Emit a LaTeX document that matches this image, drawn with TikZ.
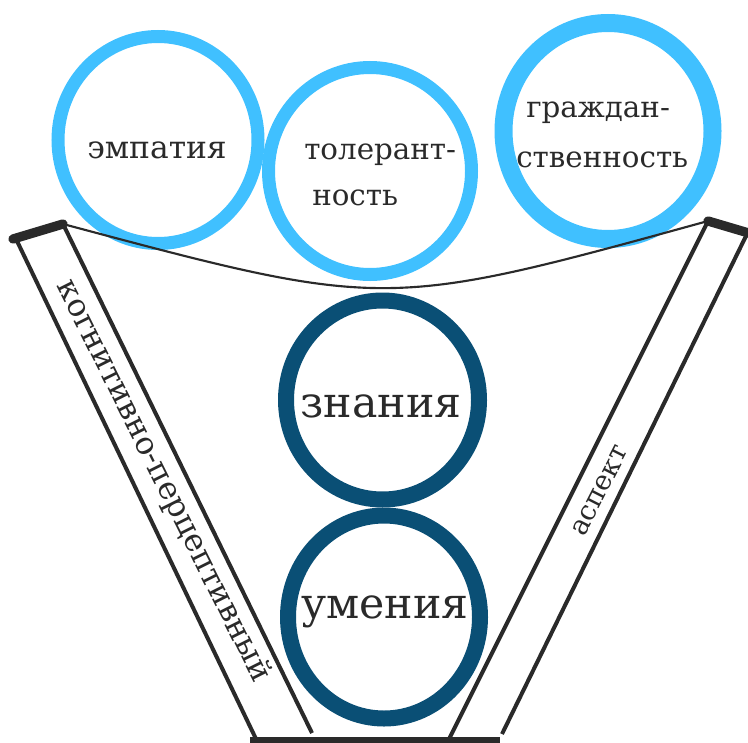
\documentclass[tikz,border=0pt]{standalone}
\usepackage{fontspec}
\setmainfont{DejaVu Serif}
\definecolor{lblue}{HTML}{40C0FF}
\definecolor{dblue}{HTML}{0A4F75}
\definecolor{ink}{HTML}{2A2A2A}
\begin{document}
\begin{tikzpicture}[x=0.75pt,y=-0.75pt,
  ringL/.style={draw=lblue,line width=9.75pt},
  ringD/.style={draw=dblue,line width=12pt},
  funnel/.style={draw=ink,line width=3pt},
  capline/.style={draw=ink,line width=7pt,line cap=round},
  txt/.style={text=ink,font=\fontsize{22pt}{27pt}\selectfont,inner sep=0pt},
  bigtxt/.style={text=ink,font=\fontsize{32pt}{38pt}\selectfont,inner sep=0pt},
  sidetxt/.style={text=ink,font=\fontsize{23.5pt}{28pt}\selectfont,inner sep=0pt}]
\useasboundingbox (0,0) rectangle (748,742);
% top circles
\draw[ringL] (158,140) ellipse [x radius=100,y radius=103.5];
\draw[ringL] (370,171) ellipse [x radius=101.5,y radius=103.5];
\draw[ringL,line width=13.5pt] (608,131) ellipse [x radius=104.5,y radius=108];
% dark circles
\draw[ringD] (382.5,400) ellipse [x radius=96.5,y radius=99.5];
\draw[ringD] (384,617) ellipse [x radius=96,y radius=101.5];
% funnel
\coordinate (lcapA) at (13,239);
\coordinate (lcapB) at (63,224);
\coordinate (loutT) at (17,241);
\coordinate (loutB) at (257,741);
\coordinate (linB) at (312,733);
\coordinate (rcapA) at (708,221);
\coordinate (rcapB) at (752,234);
\coordinate (rinB) at (448,741);
\coordinate (routT) at (746,236);
\coordinate (routB) at (502,734);
\coordinate (barA) at (250,742);
\coordinate (barB) at (500,742);
\draw[funnel] (loutT) -- (loutB);
\draw[funnel] (lcapB) -- (linB);
\draw[funnel] (rcapA) -- (rinB);
\draw[funnel] (routT) -- (routB);
\draw[capline] (lcapA) -- (lcapB);
\draw[capline] (rcapA) -- (rcapB);
\draw[ink,line width=7pt] (barA) -- (barB);
\draw[ink,line width=1.6pt] (lcapB) .. controls (385,310) .. (rcapA);
% texts
\node[txt,font=\fontsize{23.5pt}{28pt}\selectfont] (t1) at (157,150) {эмпатия};
\node[txt,anchor=mid west] (t2a) at (304,156) {толерант-};
\node[txt,anchor=mid west] (t2b) at (312,202) {ность};
\node[txt,anchor=mid west] (t3a) at (526,114) {граждан-};
\node[txt,anchor=mid west] (t3b) at (516,164) {ственность};
\node[bigtxt] (k1) at (381,406) {знания};
\node[bigtxt] (k2) at (385,612) {умения};
\node[sidetxt,rotate=-63.5] (s1) at (163,481) {когнитивно-перцептивный};
\node[sidetxt,font=\fontsize{20.5pt}{24pt}\selectfont,rotate=63] (s2) at (600,491) {аспект};
\end{tikzpicture}
\end{document}
